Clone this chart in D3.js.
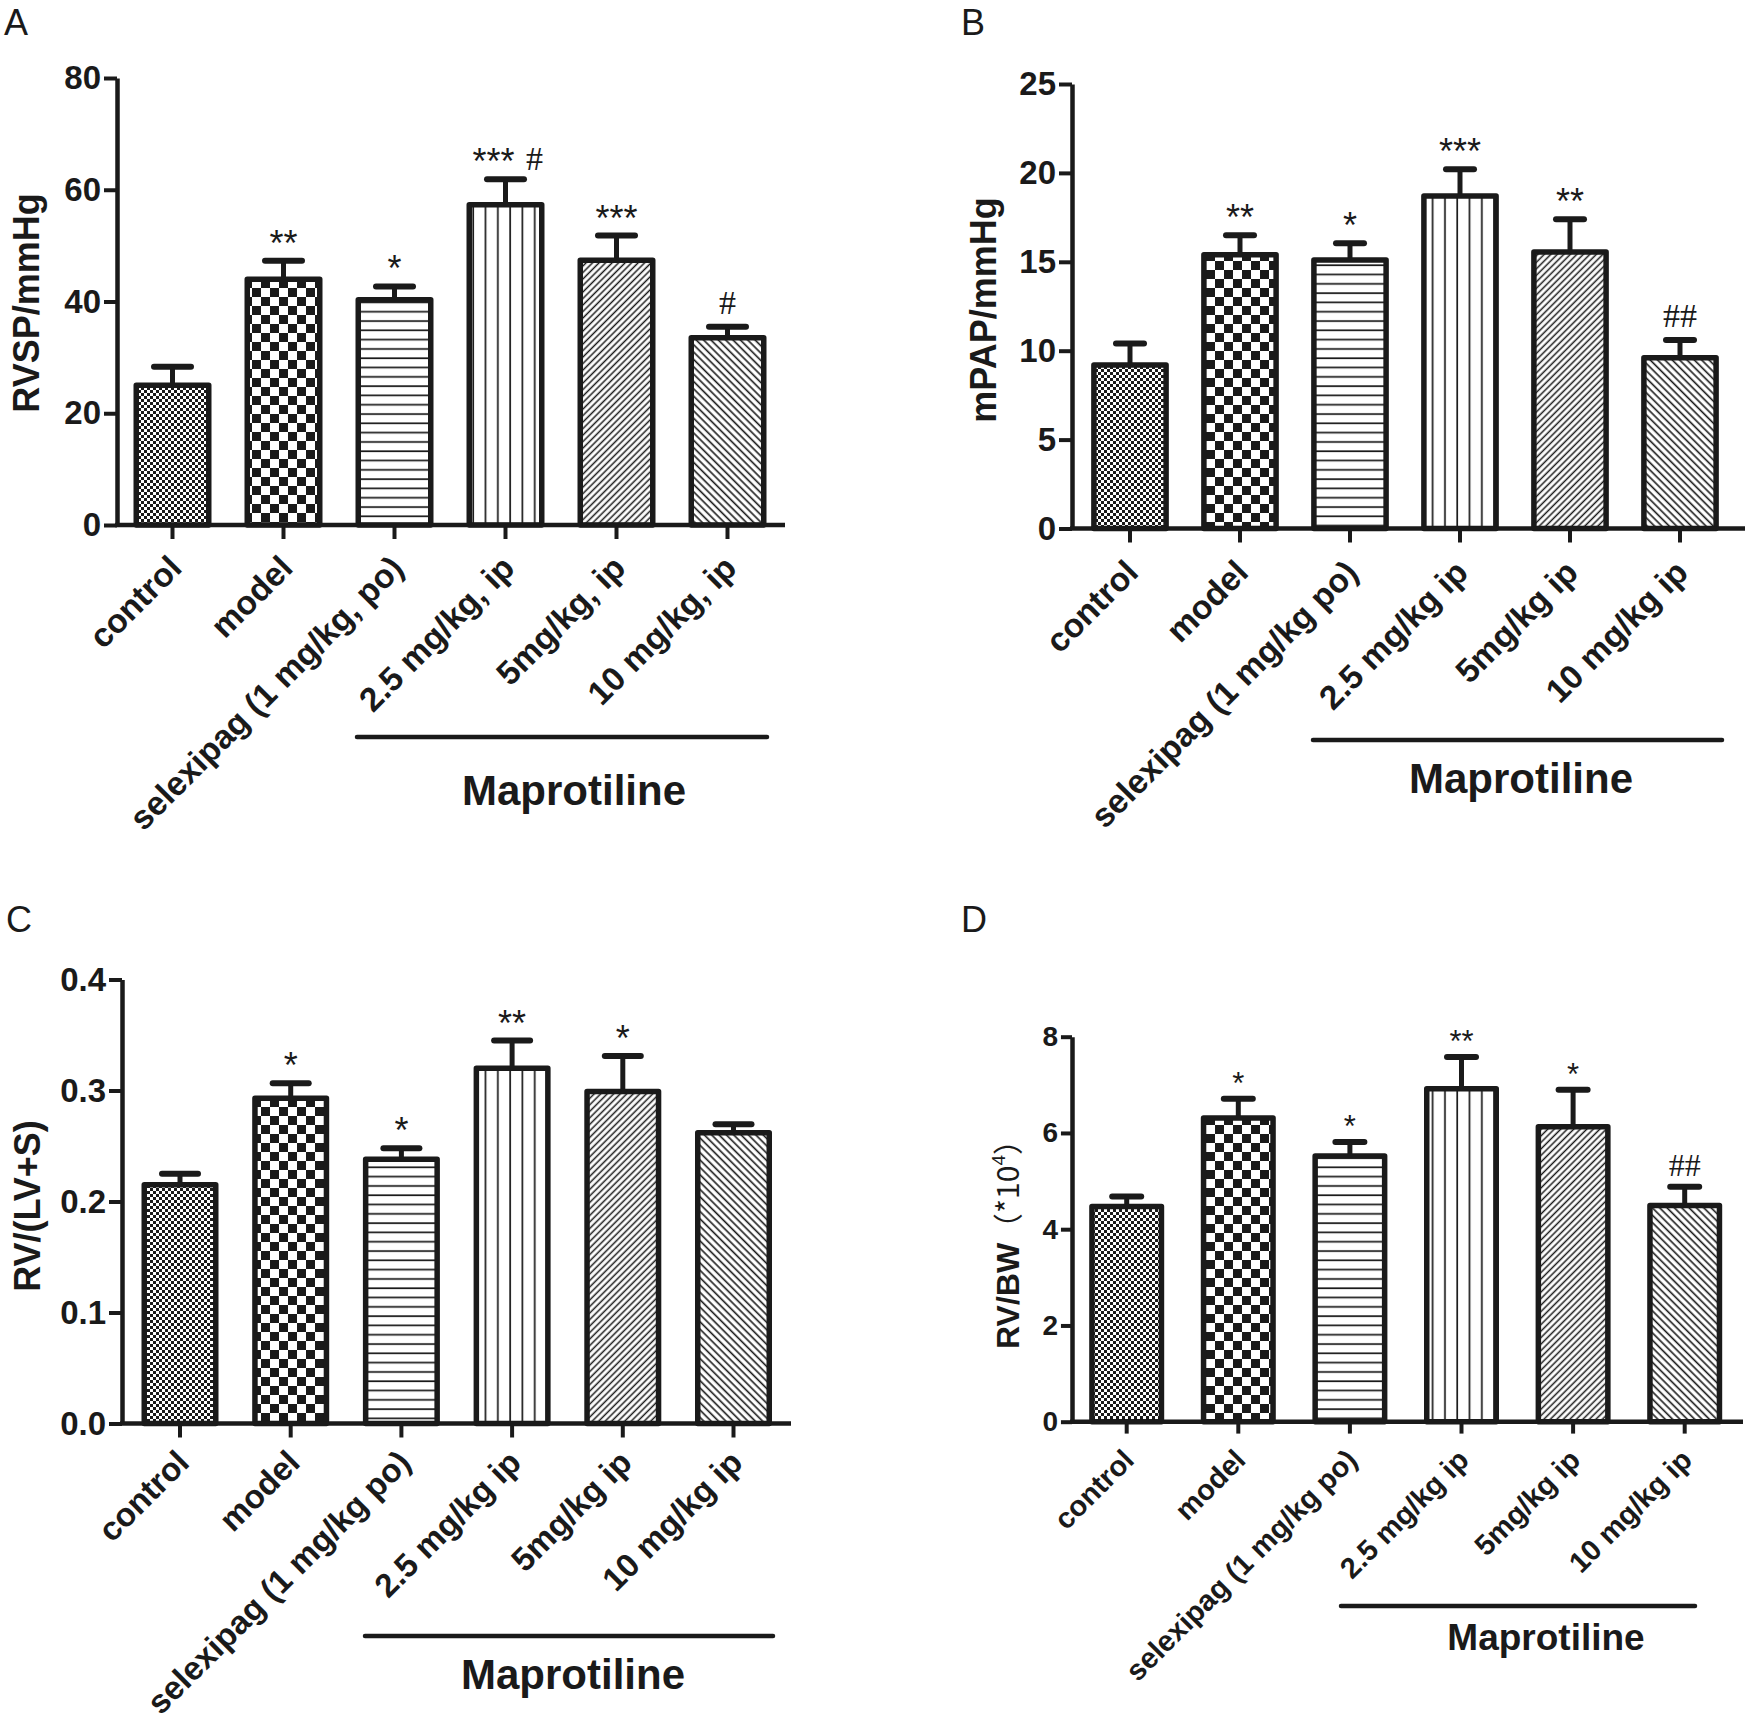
<!DOCTYPE html>
<html>
<head>
<meta charset="utf-8">
<script src="https://cdn.jsdelivr.net/npm/d3@7"></script>
<style>
  body { margin: 0; background: #fff; }
  text { font-family: Arial, "Liberation Sans", sans-serif; }
</style>
</head>
<body>
<svg id="fig" width="1747" height="1726"></svg>
<script>
"use strict";

// groups (x categories)
const groupsA = ["control", "model", "selexipag (1 mg/kg, po)", "2.5 mg/kg, ip", "5mg/kg, ip", "10 mg/kg, ip"];
const groupsBCD = ["control", "model", "selexipag (1 mg/kg po)", "2.5 mg/kg ip", "5mg/kg ip", "10 mg/kg ip"];

// A: RVSP
const rvspMean = [25.0, 44.0, 40.3, 57.3, 47.4, 33.5];
const rvspSem  = [3.3, 3.3, 2.4, 4.6, 4.4, 2.0];
const rvspStars = ["", "**", "*", "***", "***", ""];
const rvspHash  = ["", "", "", "#", "", "#"];
const rvspTicks = [0, 20, 40, 60, 80];

// B: mPAP
const mpapMean = [9.2, 15.4, 15.1, 18.7, 15.55, 9.6];
const mpapSem  = [1.2, 1.1, 0.95, 1.5, 1.85, 1.0];
const mpapStars = ["", "**", "*", "***", "**", ""];
const mpapHash  = ["", "", "", "", "", "##"];
const mpapTicks = [0, 5, 10, 15, 20, 25];

// C: RV/(LV+S)
const fultonMean = [0.215, 0.293, 0.238, 0.320, 0.299, 0.262];
const fultonSem  = [0.010, 0.0135, 0.010, 0.025, 0.032, 0.0075];
const fultonStars = ["", "*", "*", "**", "*", ""];
const fultonHash  = ["", "", "", "", "", ""];
const fultonTicks = [0, 0.1, 0.2, 0.3, 0.4];

// D: RV/BW (*10^4)
const rvbwMean = [4.47, 6.31, 5.52, 6.92, 6.13, 4.49];
const rvbwSem  = [0.21, 0.40, 0.29, 0.66, 0.77, 0.39];
const rvbwStars = ["", "*", "*", "**", "*", ""];
const rvbwHash  = ["", "", "", "", "", "##"];
const rvbwTicks = [0, 2, 4, 6, 8];

const fills = ["fineCheck", "bigCheck", "hLines", "vLines", "diagUp", "diagDown"];
const ink = "#1a1a1a";

const svg = d3.select("#fig");

// hatch patterns
const defs = svg.append("defs");
function pat(id, w, h, tf) {
    const p = defs.append("pattern")
        .attr("id", id)
        .attr("patternUnits", "userSpaceOnUse")
        .attr("width", w)
        .attr("height", h);
    if (tf) p.attr("patternTransform", tf);
    p.append("rect").attr("width", w).attr("height", h).attr("fill", "#fff");
    return p;
}
let p = pat("fineCheck", 6, 6);
p.append("rect").attr("width", 3).attr("height", 3).attr("fill", ink);
p.append("rect").attr("x", 3).attr("y", 3).attr("width", 3).attr("height", 3).attr("fill", ink);
p = pat("bigCheck", 18, 18);
p.append("rect").attr("width", 9).attr("height", 9).attr("fill", ink);
p.append("rect").attr("x", 9).attr("y", 9).attr("width", 9).attr("height", 9).attr("fill", ink);
p = pat("hLines", 10, 9.3);
p.append("rect").attr("y", 4).attr("width", 10).attr("height", 1.7).attr("fill", ink);
p = pat("vLines", 12.3, 10);
p.append("rect").attr("x", 5).attr("width", 1.7).attr("height", 10).attr("fill", ink);
p = pat("diagUp", 4.6, 10, "rotate(45)");
p.append("rect").attr("x", 1.5).attr("width", 1.5).attr("height", 10).attr("fill", ink);
p = pat("diagDown", 5.2, 10, "rotate(-45)");
p.append("rect").attr("x", 1.5).attr("width", 1.6).attr("height", 10).attr("fill", ink);

function drawPanel(cfg) {
    const g = svg.append("g");
    const sw = 5.5;

    // panel letter
    g.append("text")
        .attr("x", cfg.letter[1]).attr("y", cfg.letter[2])
        .attr("font-size", 36).attr("fill", ink)
        .text(cfg.letter[0]);

    const y = d3.scaleLinear()
        .domain([0, cfg.ticks[cfg.ticks.length - 1]])
        .range([cfg.y0, cfg.y1]);

    const pad = 1 - (cfg.barW - sw) / cfg.step;
    const start = cfg.firstTick - cfg.step / 2;
    const x = d3.scaleBand()
        .domain(cfg.cats)
        .range([start, start + cfg.cats.length * cfg.step])
        .paddingInner(pad)
        .paddingOuter(pad / 2);
    const cx = d => x(d) + x.bandwidth() / 2;

    const rows = cfg.cats.map((c, i) => ({
        cat: c, mean: cfg.mean[i], sem: cfg.sem[i],
        star: cfg.stars[i], hash: cfg.hash[i], fill: fills[i]
    }));

    // error bars (upper only)
    const eb = g.append("g");
    eb.selectAll("line.v").data(rows).enter().append("line")
        .attr("x1", d => cx(d.cat)).attr("x2", d => cx(d.cat))
        .attr("y1", d => y(d.mean)).attr("y2", d => y(d.mean + d.sem))
        .attr("stroke", ink).attr("stroke-width", 5);
    eb.selectAll("line.c").data(rows).enter().append("line")
        .attr("x1", d => cx(d.cat) - cfg.capW / 2 + 3)
        .attr("x2", d => cx(d.cat) + cfg.capW / 2 - 3)
        .attr("y1", d => y(d.mean + d.sem)).attr("y2", d => y(d.mean + d.sem))
        .attr("stroke", ink).attr("stroke-width", 6).attr("stroke-linecap", "round");

    // bars
    g.selectAll("rect.bar").data(rows).enter().append("rect")
        .attr("x", d => x(d.cat))
        .attr("width", x.bandwidth())
        .attr("y", d => y(d.mean))
        .attr("height", d => y(0) - y(d.mean))
        .attr("fill", d => "url(#" + d.fill + ")")
        .attr("stroke", ink).attr("stroke-width", sw)
        .attr("stroke-linejoin", "round");

    // significance marks
    g.selectAll("text.star").data(rows.filter(d => d.star)).enter().append("text")
        .attr("x", d => cx(d.cat) + (d.hash ? -12 * cfg.k : 0))
        .attr("y", d => y(d.mean + d.sem) - 5)
        .attr("text-anchor", "middle")
        .attr("font-size", cfg.starSize).attr("fill", ink)
        .text(d => d.star);
    g.selectAll("text.hash").data(rows.filter(d => d.hash)).enter().append("text")
        .attr("x", d => cx(d.cat) + (d.star ? 29 * cfg.k : 0))
        .attr("y", d => y(d.mean + d.sem) - (d.star ? 9 : 13) * cfg.k)
        .attr("text-anchor", "middle")
        .style("font-family", "'Times New Roman', 'Liberation Serif', serif")
        .attr("font-size", cfg.hashSize).attr("fill", ink)
        .text(d => d.hash);

    // y axis
    const ya = g.append("g")
        .attr("transform", "translate(" + cfg.axisX + ",0)")
        .call(d3.axisLeft(y).tickValues(cfg.ticks).tickFormat(cfg.fmt)
            .tickSize(13 * cfg.k).tickSizeOuter(0).tickPadding(3));
    ya.select(".domain").attr("stroke", ink).attr("stroke-width", 4.5);
    ya.selectAll(".tick line").attr("stroke", ink).attr("stroke-width", 4);
    ya.selectAll(".tick text")
        .attr("fill", ink).attr("font-size", cfg.tickSize).attr("font-weight", "bold")
        .style("font-family", "Arial, 'Liberation Sans', sans-serif");

    // x axis
    const xa = g.append("g")
        .attr("transform", "translate(0," + cfg.y0 + ")")
        .call(d3.axisBottom(x).tickSize(14 * cfg.k).tickSizeOuter(0));
    xa.select(".domain").remove();
    xa.selectAll(".tick line").attr("stroke", ink).attr("stroke-width", 4);
    xa.selectAll(".tick text")
        .attr("y", 0).attr("dy", 0)
        .attr("transform", "translate(" + cfg.lab[0] + "," + cfg.lab[1] + ") rotate(-45)")
        .attr("text-anchor", "end")
        .attr("fill", ink).attr("font-size", cfg.xLabSize).attr("font-weight", "bold")
        .style("font-family", "Arial, 'Liberation Sans', sans-serif");
    g.append("line")
        .attr("x1", cfg.axisX - 2).attr("x2", cfg.xEnd)
        .attr("y1", cfg.y0).attr("y2", cfg.y0)
        .attr("stroke", ink).attr("stroke-width", 4.5);

    // y label
    const yl = g.append("text")
        .attr("transform", "translate(" + cfg.yLab[0] + "," + cfg.yLab[1] + ") rotate(-90)")
        .attr("text-anchor", "middle")
        .attr("fill", ink);
    cfg.yLabParts.forEach(part => {
        const t = yl.append("tspan").style("font-size", part.size + "px").text(part.text);
        if (part.bold) t.style("font-weight", "bold");
        if (part.cjk) t.style("font-family", "'Noto Sans CJK SC', 'Noto Sans', sans-serif");
        if (part.sup) t.attr("dy", -part.size * 0.75);
        if (part.down) t.attr("dy", part.down);
    });

    // Maprotiline bracket
    g.append("line")
        .attr("x1", cfg.bracket[0]).attr("x2", cfg.bracket[1])
        .attr("y1", cfg.bracket[2]).attr("y2", cfg.bracket[2])
        .attr("stroke", ink).attr("stroke-width", 4.5).attr("stroke-linecap", "round");
    g.append("text")
        .attr("x", cfg.mapro[0]).attr("y", cfg.mapro[1])
        .attr("text-anchor", "middle")
        .attr("font-size", cfg.mapro[2]).attr("font-weight", "bold").attr("fill", ink)
        .text("Maprotiline");
}

drawPanel({
    letter: ["A", 4, 35], cats: groupsA,
    mean: rvspMean, sem: rvspSem, stars: rvspStars, hash: rvspHash,
    ticks: rvspTicks, fmt: d3.format("d"),
    axisX: 117, y0: 525, y1: 78, firstTick: 172.5, step: 111, xEnd: 785,
    barW: 78, capW: 43, k: 1,
    starSize: 36, hashSize: 34, tickSize: 33, xLabSize: 33.5,
    lab: [11, 45],
    yLab: [39, 303], yLabParts: [{text: "RVSP/mmHg", size: 36, bold: true}],
    bracket: [357, 767, 737], mapro: [574, 805, 42]
});

drawPanel({
    letter: ["B", 961, 35], cats: groupsBCD,
    mean: mpapMean, sem: mpapSem, stars: mpapStars, hash: mpapHash,
    ticks: mpapTicks, fmt: d3.format("d"),
    axisX: 1072, y0: 528.5, y1: 84, firstTick: 1130, step: 110, xEnd: 1745,
    barW: 77.7, capW: 34, k: 1,
    starSize: 36, hashSize: 34, tickSize: 33, xLabSize: 33.5,
    lab: [10, 46],
    yLab: [996, 310], yLabParts: [{text: "mPAP/mmHg", size: 36, bold: true}],
    bracket: [1313, 1722, 740], mapro: [1521, 793, 42]
});

drawPanel({
    letter: ["C", 6, 932], cats: groupsBCD,
    mean: fultonMean, sem: fultonSem, stars: fultonStars, hash: fultonHash,
    ticks: fultonTicks, fmt: d3.format(".1f"),
    axisX: 122, y0: 1423.5, y1: 979.5, firstTick: 180, step: 110.7, xEnd: 791,
    barW: 77, capW: 42, k: 1,
    starSize: 36, hashSize: 30, tickSize: 33, xLabSize: 33,
    lab: [11, 41],
    yLab: [40, 1206], yLabParts: [{text: "RV/(LV+S)", size: 36, bold: true}],
    bracket: [365, 773, 1636], mapro: [573, 1689, 42]
});

drawPanel({
    letter: ["D", 961, 932], cats: groupsBCD,
    mean: rvbwMean, sem: rvbwSem, stars: rvbwStars, hash: rvbwHash,
    ticks: rvbwTicks, fmt: d3.format("d"),
    axisX: 1072, y0: 1421.7, y1: 1036.7, firstTick: 1126.7, step: 111.6, xEnd: 1743,
    barW: 75, capW: 35, k: 0.85,
    starSize: 31, hashSize: 32, tickSize: 28, xLabSize: 29,
    lab: [9, 40],
    yLab: [1019, 1237],
    yLabParts: [
        {text: "RV/BW", size: 32, bold: true},
        {text: "（*10", size: 30, cjk: true},
        {text: "4", size: 19, sup: true},
        {text: "）", size: 30, cjk: true, down: 14}
    ],
    bracket: [1341, 1695, 1606], mapro: [1546, 1650, 37]
});
</script>
</body>
</html>
